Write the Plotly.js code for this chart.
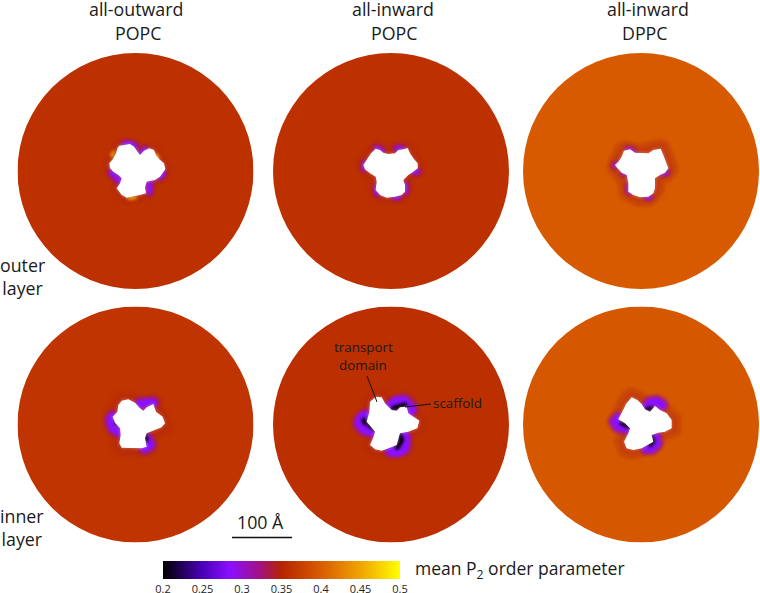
<!DOCTYPE html>
<html>
<head>
<meta charset="utf-8">
<script src="https://cdn.plot.ly/plotly-3.0.1.min.js"></script>
<style>
html,body{margin:0;padding:0;background:#fff}#chart{width:760px;height:593px}
.scatterlayer .js-line{stroke-linecap:round!important;stroke-linejoin:round!important;filter:blur(1.6px)}
.scatterlayer .js-fill{filter:blur(0.4px)}
</style>
</head>
<body>
<div id="chart"></div>
<script>
// Colour scale of the mean P2 order parameter
const scaleValues = [0.2, 0.25, 0.285, 0.32, 0.35, 0.4, 0.45, 0.5];
const scaleColors = ['#000000', '#4a00b8', '#8a10ff', '#a0108c', '#b52400', '#d85c00', '#f0a400', '#ffff00'];
const tickValues = [0.2, 0.25, 0.3, 0.35, 0.4, 0.45, 0.5];
const tickLabels = ['0.2', '0.25', '0.3', '0.35', '0.4', '0.45', '0.5'];

// Mean value of each membrane disc (panels: outer row, then inner row)
const discValues = [0.362, 0.362, 0.398, 0.364, 0.360, 0.396];

// Outlines, in panel-local grid units (1/3 picture pixel, y down)
const blob1X = [88,105,120,132,140,150,162,178,192,198,208,222,226,218,210,195,170,165,168,150,130,110,95,80,90,95,85,70,60,58,68,78,82];
const blob1Y = [47,44,42,50,62,75,62,55,60,75,88,100,118,130,140,150,155,172,190,195,200,203,195,175,160,145,135,125,115,100,88,70,55];
const lobe1X = [65,80,92,null,152,165,null,178,178,null,105,125,135,null,210,218];
const lobe1Y = [128,145,155,null,70,60,null,150,185,null,42,42,50,null,140,130];
const warm1X = [118,135,null,66,70,null,198,203];
const warm1Y = [205,203,null,76,68,null,76,82];

const blob2X = [92,105,115,130,150,160,175,188,195,205,218,218,205,190,175,180,180,170,150,125,105,92,95,92,75,60,55,65,78];
const blob2Y = [56,60,68,72,70,60,58,54,70,85,100,115,125,135,150,165,185,195,200,203,195,180,155,140,130,118,105,90,70];
const lobe2X = [95,110,null,155,170,null,60,58,null,205,218,null,95,97,null,150,160,null,180,182];
const lobe2Y = [55,62,null,55,55,null,100,115,null,125,125,null,172,190,null,202,200,null,165,185];
const warm2X = [];
const warm2Y = [];

const blob3X = [72,90,105,125,145,160,182,190,198,205,195,180,165,165,160,145,120,100,85,85,80,65,50,45,55,65];
const blob3Y = [62,58,68,70,70,60,56,75,95,115,128,135,145,175,190,200,202,195,185,160,135,128,112,105,95,80];
const lobe3X = [85,100,null,45,48,null,185,200,null,85,88,null,140,150,null,70,75];
const lobe3Y = [58,65,null,108,102,null,130,128,null,170,185,null,202,202,null,128,132];
const warm3X = [];
const warm3Y = [];

const blob4X = [95,115,135,150,160,170,190,198,218,225,215,195,170,165,170,155,120,95,88,92,90,75,68,82,85];
const blob4Y = [62,58,68,85,92,82,72,95,110,130,142,150,160,175,200,205,203,203,190,165,145,128,110,95,75];
const lobe4X = [68,62,70,88,null,150,170,188,null,170,180,165];
const lobe4Y = [110,122,145,155,null,72,70,68,null,175,195,205];
const core4X = [78,100,null,165,170];
const core4Y = [127,132,null,165,180];

const blob5X = [108,125,135,155,170,180,200,205,225,238,232,205,180,175,170,150,125,105,90,100,105,80,88,90];
const blob5Y = [140,142,160,180,182,172,170,190,203,212,235,245,250,270,285,293,302,298,285,262,245,215,185,155];
const lobe5X = [155,170,190,205,210,null,78,65,62,75,95,null,180,192,190,172,155];
const lobe5Y = [170,156,155,165,178,null,200,206,220,235,240,null,250,265,292,303,300];
const core5X = [160,175,195,null,72,75,null,88,102,null,178,185,172];
const core5Y = [175,170,165,null,210,218,null,225,235,null,255,270,292];

const blob6X = [78,95,112,125,135,150,165,180,200,215,215,195,175,155,160,140,125,100,80,72,85,90,75,55,65,72];
const blob6Y = [72,52,60,72,88,95,78,90,100,120,145,155,158,165,185,195,205,210,205,185,160,145,130,118,100,85];
const lobe6X = [140,150,170,185,null,55,45,55,80,null,165,170,155,140];
const lobe6Y = [85,68,65,75,null,115,125,140,145,null,170,190,205,205];
const core6X = [140,155,null,65,85,null,155,160,150];
const core6Y = [88,85,null,130,140,null,170,185,195];

// Panel placement on the page
const columnCentres = [135.5, 391, 641];
const rowCentres = [171, 424.5];
const discRadius = 118;
const gridOriginX = [90, 345, 600, 90, 340, 600];
const gridOriginY = [130, 130, 130, 380, 350, 380];

const W = 760, H = 593;
const hexRgb = h => [1,3,5].map(i => parseInt(h.substr(i,2),16));
function p2Colour(v){
  for(let i=0;i<scaleValues.length-1;i++){
    if(v<=scaleValues[i+1]){
      const t=(v-scaleValues[i])/(scaleValues[i+1]-scaleValues[i]);
      const a=hexRgb(scaleColors[i]),b=hexRgb(scaleColors[i+1]);
      return 'rgb('+a.map((c,k)=>Math.round(c+(b[k]-c)*t)).join(',')+')';
    }
  }
  return scaleColors[scaleColors.length-1];
}
const colorscale = scaleValues.map((v,i)=>[(v-0.2)/0.3, scaleColors[i]]);

const blobs = [[blob1X,blob1Y],[blob2X,blob2Y],[blob3X,blob3Y],[blob4X,blob4Y],[blob5X,blob5Y],[blob6X,blob6Y]];
const lobes = [[lobe1X,lobe1Y],[lobe2X,lobe2Y],[lobe3X,lobe3Y],[lobe4X,lobe4Y],[lobe5X,lobe5Y],[lobe6X,lobe6Y]];
const cores = [null,null,null,[core4X,core4Y],[core5X,core5Y],[core6X,core6Y]];
const warms = [[warm1X,warm1Y],[warm2X,warm2Y],[warm3X,warm3Y],null,null,null];
const lobeWidth = [5,4,3,9,12,9];
const haloWidths = [[16,8],[18,8],[20,10],[20,10],[16,8],[20,10]];
const haloOpacity = [0.22,0.25,0.33,0.25,0.22,0.3];

const layout = {
  width:W, height:H, margin:{l:0,r:0,t:0,b:0,autoexpand:false},
  paper_bgcolor:'#fff', plot_bgcolor:'rgba(0,0,0,0)', showlegend:false,
  font:{family:'"Open Sans", sans-serif', color:'#222'},
  shapes:[], annotations:[]
};
const traces = [];
const line = (i,xy,color,width,opacity)=>({
  type:'scatter',mode:'lines',x:xy[0],y:xy[1],xaxis:'x'+(i+1),yaxis:'y'+(i+1),
  line:{color:color,width:width},opacity:opacity,hoverinfo:'skip',showlegend:false
});

for(let i=0;i<6;i++){
  const cx=columnCentres[i%3], cy=rowCentres[Math.floor(i/3)], R=discRadius;
  const xa='xaxis'+(i+1), ya='yaxis'+(i+1), s=i+1;
  const x0=(cx-R-gridOriginX[i])*3, x1=(cx+R-gridOriginX[i])*3;
  const y0=(cy+R-gridOriginY[i])*3, y1=(cy-R-gridOriginY[i])*3;
  layout[xa]={domain:[(cx-R)/W,(cx+R)/W],range:[x0,x1],visible:false,fixedrange:true,anchor:'y'+s};
  layout[ya]={domain:[1-(cy+R)/H,1-(cy-R)/H],range:[y0,y1],visible:false,fixedrange:true,anchor:'x'+s};
  layout.shapes.push({type:'circle',layer:'below',xref:'x'+s,yref:'y'+s,x0:x0,x1:x1,y0:y0,y1:y1,
    fillcolor:p2Colour(discValues[i]),line:{width:0}});

  const closed=[blobs[i][0].concat(blobs[i][0][0]),blobs[i][1].concat(blobs[i][1][0])];
  haloWidths[i].forEach(w=>traces.push(line(i,closed,p2Colour(0.345),w,haloOpacity[i])));
  if(warms[i]) traces.push(line(i,warms[i],p2Colour(0.45),4,0.8));
  const W0=lobeWidth[i];
  traces.push(line(i,lobes[i],p2Colour(0.32),W0+6,0.55));
  traces.push(line(i,lobes[i],p2Colour(0.285),W0,1));
  if(cores[i]) traces.push(line(i,cores[i],p2Colour(0.2),i===4?5:4,1));
  traces.push({type:'scatter',mode:'lines',x:closed[0],y:closed[1],xaxis:'x'+s,yaxis:'y'+s,
    fill:'toself',fillcolor:'#fff',line:{color:'#fff',width:0.5},hoverinfo:'skip',showlegend:false});
}

// Colour bar, carried by one point hidden under the first blob
traces.splice(0,0,{type:'scatter',mode:'markers',x:[130,130],y:[120,120],xaxis:'x1',yaxis:'y1',hoverinfo:'skip',showlegend:false,
  marker:{size:1,color:[0.2,0.5],cmin:0.2,cmax:0.5,colorscale:colorscale,
    colorbar:{orientation:'h',lenmode:'pixels',len:237,thicknessmode:'pixels',thickness:17.5,
      x:281.5/W,xanchor:'center',y:(H-560.5)/H,yanchor:'top',xpad:0,ypad:0,outlinewidth:0,
      tickmode:'array',tickvals:tickValues,ticktext:tickLabels,ticks:'',tickfont:{size:11,color:'#222'}}}});

const text=(t,x,y,size,anchor)=>layout.annotations.push({text:t,xref:'paper',yref:'paper',x:x/W,y:1-y/H,
  xanchor:anchor||'center',yanchor:'middle',showarrow:false,font:{size:size,color:'#1a1a1a'}});
text('all-outward',135.5,9,17.8); text('POPC',137.5,33,17.8);
text('all-inward',393,9,17.8); text('POPC',394,33,17.8);
text('all-inward',648,9,17.8); text('DPPC',645,33,17.8);
text('outer<br>layer',22,276.5,17.8);
text('inner<br>layer',21.5,527,17.8);
text('100 Å',260,522,17.8);
text('mean P<sub>2</sub> order parameter',413,569,17.5,'left');
text('transport',363.5,347,13.4); text('domain',363,365,13.4);
text('scaffold',431,403,13.4,'left');

const seg=(a,b,c,d,w)=>layout.shapes.push({type:'line',xref:'paper',yref:'paper',x0:a/W,x1:c/W,y0:1-b/H,y1:1-d/H,line:{color:'#111',width:w}});
seg(232,537.5,292,537.5,1.5);
seg(367,376,377,402,1);
seg(431,404,405,407,1);

Plotly.newPlot('chart',traces,layout,{displayModeBar:false,staticPlot:true});
</script>
</body>
</html>
